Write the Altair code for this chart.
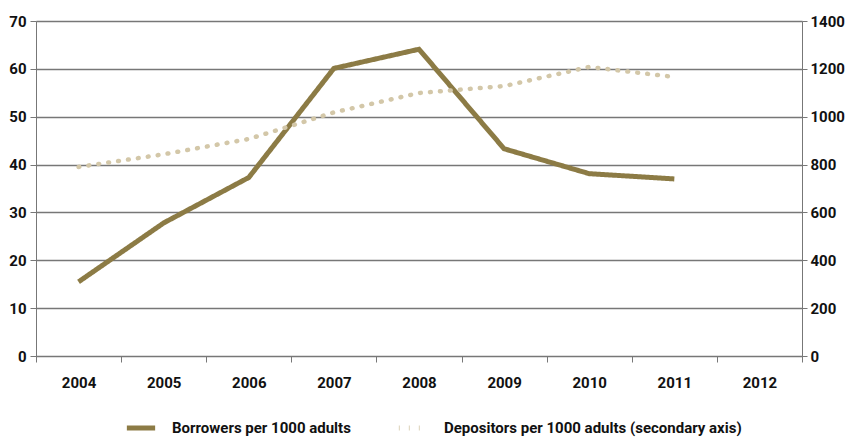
import altair as alt
import pandas as pd

years = ["2004", "2005", "2006", "2007", "2008", "2009", "2010", "2011", "2012"]
borrowers = [15.5, 27.8, 37.3, 60.1, 64.1, 43.3, 38.1, 37.0, None]
depositors = [790, 843, 907, 1018, 1099, 1128, 1208, 1166, None]
series = ["Borrowers per 1000 adults", "Depositors per 1000 adults (secondary axis)"]
left_ticks = [0, 10, 20, 30, 40, 50, 60, 70]
right_ticks = [0, 200, 400, 600, 800, 1000, 1200, 1400]

df_b = pd.DataFrame({"year": years, "value": borrowers, "series": series[0]}).dropna()
df_d = pd.DataFrame({"year": years, "value": depositors, "series": series[1]}).dropna()

FONT = "Roboto"
GOLD = "#8c7b45"
BEIGE = "#d3c7a8"
AX = "#777777"

x = alt.X("year:N", scale=alt.Scale(domain=years, paddingInner=0, paddingOuter=0),
          axis=alt.Axis(title=None, labelAngle=0, tickBand="extent", tickSize=6,
                        labelPadding=13, domainColor=AX, tickColor=AX,
                        labelFontSize=15, labelFontWeight="bold", labelColor="#111"))

color = alt.Color("series:N", scale=alt.Scale(domain=series, range=[GOLD, BEIGE]),
                  legend=alt.Legend(title=None, orient="none", direction="horizontal",
                                    legendX=88, legendY=390,
                                    symbolType="stroke", symbolStrokeWidth=5, symbolSize=800,
                                    labelOffset=14,
                                    labelFontSize=15, labelFontWeight="bold", labelColor="#111",
                                    columnPadding=37, labelLimit=400))
dash = alt.StrokeDash("series:N", scale=alt.Scale(domain=series, range=[[1, 0], [0.8, 9.2]]),
                      legend=None)

left = alt.Chart(df_b).mark_line(strokeWidth=5, strokeJoin="miter").encode(
    x=x,
    y=alt.Y("value:Q", scale=alt.Scale(domain=[0, 70], nice=False),
            axis=alt.Axis(title=None, values=left_ticks, grid=True, labelOverlap=False,
                          gridColor=AX, gridWidth=1.3, domainColor=AX, tickColor=AX,
                          tickSize=6, labelFontSize=15, labelFontWeight="bold", labelColor="#111",
                          labelPadding=4)),
    color=color,
    strokeDash=dash,
)

right = alt.Chart(df_d).mark_line(strokeWidth=4.5, strokeCap="round").encode(
    x=x,
    y=alt.Y("value:Q", scale=alt.Scale(domain=[0, 1400], nice=False),
            axis=alt.Axis(title=None, orient="right", values=right_ticks, grid=False,
                          format="d", labelOverlap=False,
                          domainColor=AX, tickColor=AX, tickSize=5,
                          labelFontSize=15, labelFontWeight="bold", labelColor="#111",
                          labelPadding=3)),
    color=color,
    strokeDash=dash,
)

chart = alt.layer(left, right).resolve_scale(y="independent").properties(
    width=766, height=335, padding={"left": 0, "top": 6, "right": 0, "bottom": 0}
).configure_view(stroke=None).configure(font=FONT)

chart.save("out.html", embed_options={"renderer": "svg", "actions": False})
